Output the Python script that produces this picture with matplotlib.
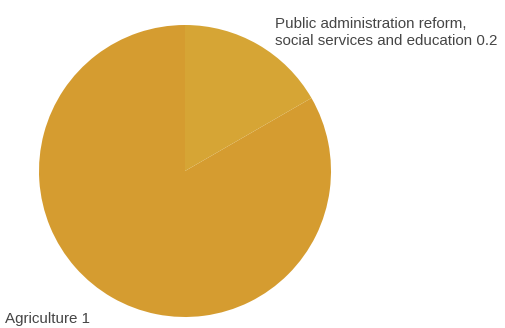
import matplotlib
matplotlib.use("Agg")
import matplotlib.pyplot as plt

categories = ["Agriculture", "Public administration reform,\nsocial services and education"]
values = [1, 0.2]
colors = ["#D59C30", "#D6A535"]

W, H = 505, 328
fig = plt.figure(figsize=(W / 100, H / 100), dpi=100)
fig.patch.set_facecolor("white")

cx, cy, r = 185, 171, 146
ax = fig.add_axes([(cx - r) / W, (H - cy - r) / H, 2 * r / W, 2 * r / H])
ax.pie(values, colors=colors, startangle=90, counterclock=True,
       radius=1, wedgeprops=dict(linewidth=0))
ax.set_xlim(-1, 1)
ax.set_ylim(-1, 1)
ax.set_aspect("equal")
ax.axis("off")

font = dict(family="Liberation Sans", fontsize=10.9, color="#454545")
fig.text(5 / W, 1 - 323 / H, f"{categories[0]} {values[0]:g}", ha="left", va="baseline", **font)
fig.text(275 / W, 1 - 45 / H, f"{categories[1]} {values[1]:g}", ha="left", va="baseline",
         linespacing=1.3, **font)

fig.savefig("out.png", dpi=100)
